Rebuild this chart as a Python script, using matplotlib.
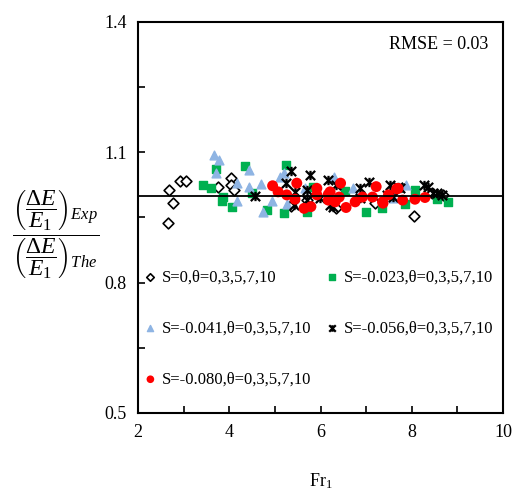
import numpy as np
import matplotlib
matplotlib.use('Agg')
import matplotlib.pyplot as plt
from matplotlib.path import Path

plt.rcParams['font.family'] = ['Liberation Serif', 'DejaVu Serif']
plt.rcParams['mathtext.fontset'] = 'custom'
plt.rcParams['mathtext.rm'] = 'Liberation Serif'
plt.rcParams['mathtext.it'] = 'Liberation Serif:italic'

# ── Data
fr_s0 = [2.69, 2.76, 2.66, 2.92, 3.05, 3.76, 4.03, 4.04, 4.11, 5.35, 5.70, 6.35, 7.19, 8.05, 8.44, 8.69]
r_s0  = [1.013, 0.983, 0.937, 1.034, 1.034, 1.020, 1.042, 1.025, 1.013, 0.977, 0.990, 0.971, 0.983, 0.953, 1.006, 1.002]

fr_s023 = [3.43, 3.60, 3.70, 3.87, 3.83, 4.05, 4.35, 4.49, 4.82, 5.24, 5.21, 5.70, 5.84, 6.54, 6.99, 7.34, 7.85, 8.07, 8.55, 8.79]
r_s023  = [1.025, 1.019, 1.062, 0.996, 0.988, 0.973, 1.069, 1.006, 0.967, 1.071, 0.961, 0.962, 1.021, 1.011, 0.963, 0.971, 0.980, 1.013, 0.993, 0.985]

fr_s041 = [3.67, 3.77, 3.71, 4.16, 4.16, 4.44, 4.43, 4.69, 4.75, 4.93, 5.11, 5.20, 5.26, 5.66, 6.30, 6.72, 7.59, 7.87]
r_s041  = [1.094, 1.082, 1.052, 1.030, 0.988, 1.059, 1.021, 1.026, 0.963, 0.988, 1.044, 1.052, 0.980, 1.017, 1.044, 1.017, 0.994, 1.025]

fr_s056 = [4.56, 5.24, 5.35, 5.41, 5.44, 5.70, 5.70, 5.77, 5.99, 6.17, 6.21, 6.28, 6.35, 6.87, 6.87, 7.07, 7.45, 7.52,
           7.59, 7.70, 7.74, 8.27, 8.36, 8.47, 8.55, 8.66]
r_s056  = [0.999, 1.029, 1.057, 0.979, 1.009, 1.013, 0.990, 1.048, 0.994, 1.036, 0.979, 0.975, 1.025, 1.017, 0.994, 1.032, 1.002, 1.025,
           0.998, 1.021, 1.017, 1.025, 1.021, 1.007, 1.006, 1.002]

fr_s080 = [4.95, 5.07, 5.26, 5.48, 5.44, 5.64, 5.79, 5.92, 5.92, 6.17, 6.21, 6.44, 6.17, 6.32, 6.41, 6.56, 6.76, 6.92,
           7.14, 7.22, 7.36, 7.37, 7.49, 7.67, 7.70, 7.80, 8.07, 8.29]
r_s080  = [1.023, 1.009, 1.002, 1.029, 0.992, 0.971, 0.975, 1.017, 1.002, 1.003, 1.009, 1.029, 0.990, 0.986, 0.997, 0.973, 0.986, 0.997,
           0.997, 1.021, 0.986, 0.983, 1.002, 1.016, 1.017, 0.990, 0.992, 0.996]

labels = ['S=0,θ=0,3,5,7,10', 'S=-0.023,θ=0,3,5,7,10', 'S=-0.041,θ=0,3,5,7,10',
          'S=-0.056,θ=0,3,5,7,10', 'S=-0.080,θ=0,3,5,7,10']
rmse = 0.03

# Excel-like "star" marker: X with a vertical stroke
star = Path([(-1, -1), (1, 1), (-1, 1), (1, -1), (0, -1), (0, 1)],
            [Path.MOVETO, Path.LINETO, Path.MOVETO, Path.LINETO, Path.MOVETO, Path.LINETO])

fig = plt.figure(figsize=(5.14, 4.95), dpi=100)
ax = fig.add_axes([0.2685, 0.1657, 0.7101, 0.7899])

h0 = ax.scatter(fr_s0, r_s0, marker='D', s=30, facecolors='white', edgecolors='black', linewidths=1.2, zorder=3)
h1 = ax.scatter(fr_s023, r_s023, marker='s', s=34, color='#00b050', zorder=3)
h2 = ax.scatter(fr_s041, r_s041, marker='^', s=40, color='#8eb4e3', zorder=3)
h3 = ax.scatter(fr_s056, r_s056, marker=star, s=45, color='black', linewidths=1.6, zorder=4)
h4 = ax.scatter(fr_s080, r_s080, marker='o', s=62, color='#ff0000', edgecolors='none', zorder=5)

ax.axhline(1.0, color='black', lw=1.3, zorder=6)

ax.set_xlim(2, 10)
ax.set_ylim(0.5, 1.4)
ax.set_xticks([2, 4, 6, 8, 10])
ax.set_xticks([3, 5, 7, 9], minor=True)
ax.set_yticks([0.5, 0.8, 1.1, 1.4])
ax.set_yticklabels(['0.5', '0.8', '1.1', '1.4'])
ax.set_yticks([0.65, 0.95, 1.25], minor=True)
ax.tick_params(which='both', direction='in', length=5, width=1.2, labelsize=13)
ax.tick_params(axis='x', pad=8)
ax.tick_params(axis='y', pad=8)
for sp in ax.spines.values():
    sp.set_linewidth(1.5)

ax.set_xlabel(r'$\mathrm{Fr}_1$', fontsize=13, labelpad=22)
ax.set_ylabel(r'$\dfrac{\left(\dfrac{\Delta E}{E_1}\right)_{Exp}}{\left(\dfrac{\Delta E}{E_1}\right)_{The}}$',
              fontsize=17, rotation=0, va='center')
ax.yaxis.set_label_coords(-0.225, 0.455)

ax.text(0.96, 0.965, f'RMSE = {rmse:.2f}', transform=ax.transAxes, ha='right', va='top', fontsize=13)

leg = ax.legend([h0, h2, h4, h1, h3], [labels[0], labels[2], labels[4], labels[1], labels[3]],
                ncol=2, loc='upper left', bbox_to_anchor=(-0.03, 0.405), frameon=False,
                fontsize=12, labelspacing=2.1, columnspacing=0.75, handletextpad=0.2,
                handlelength=1.0, markerscale=0.7)

plt.savefig('out.png', dpi=100)
plt.close()
